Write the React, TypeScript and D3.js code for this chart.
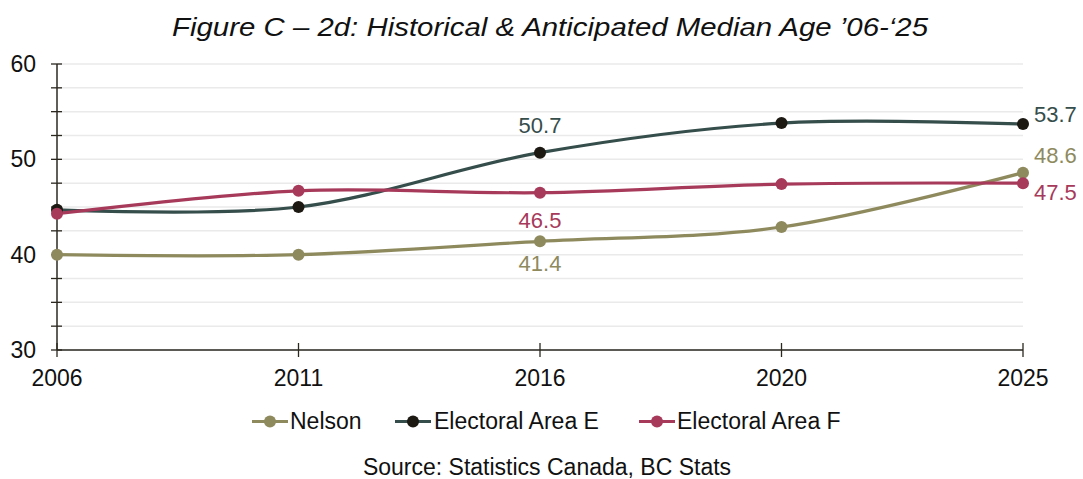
import React from "react";
import * as d3 from "d3";

const years = ["2006", "2011", "2016", "2020", "2025"];
const nelson = [40.0, 40.0, 41.4, 42.9, 48.6];
const areaE = [44.7, 45.0, 50.7, 53.8, 53.7];
const areaF = [44.3, 46.7, 46.5, 47.4, 47.5];
const yTicks = [30, 40, 50, 60];
const gridTicks = [30, 32.5, 35, 37.5, 40, 42.5, 45, 47.5, 50, 52.5, 55, 57.5, 60];

const series = [
  { name: "Nelson", values: nelson, line: "#8E8A5E", marker: "#8E8A5E", label: "#8E8A5E" },
  { name: "Electoral Area E", values: areaE, line: "#354D4B", marker: "#1C1812", label: "#354D4B" },
  { name: "Electoral Area F", values: areaF, line: "#A73A5B", marker: "#A73A5B", label: "#A73A5B" },
];

const W = 1083;
const H = 479;
const left = 57;
const right = 1023;
const top = 64;
const bottom = 350;
const font = "'Liberation Sans', Arial, sans-serif";

export default function App() {
  const x = d3.scalePoint<string>().domain(years).range([left, right]);
  const y = d3.scaleLinear().domain([30, 60]).range([bottom, top]);
  const line = d3
    .line<number>()
    .x((_, i) => x(years[i]) as number)
    .y((d) => y(d))
    .curve(d3.curveCatmullRom.alpha(0.5));

  const labels = [
    { s: 1, i: 2, dx: 0, dy: -20, anchor: "middle" },
    { s: 2, i: 2, dx: 0, dy: 35, anchor: "middle" },
    { s: 0, i: 2, dx: 0, dy: 30, anchor: "middle" },
    { s: 1, i: 4, dx: 11, dy: -2, anchor: "start" },
    { s: 0, i: 4, dx: 11, dy: -10, anchor: "start" },
    { s: 2, i: 4, dx: 11, dy: 17, anchor: "start" },
  ];

  const legendItems = [
    { s: 0, x: 252, tx: 290 },
    { s: 1, x: 395, tx: 434 },
    { s: 2, x: 639, tx: 677 },
  ];

  return (
    <svg width={W} height={H} style={{ position: "absolute", left: 0, top: 0, background: "#fff" }}>
      <rect width={W} height={H} fill="#fff" />
      <text
        x={172}
        y={36}
        textLength={756}
        lengthAdjust="spacingAndGlyphs"
        fontFamily={font}
        fontStyle="italic"
        fontSize={25}
        fill="#111"
      >
        Figure C – 2d: Historical &amp; Anticipated Median Age ’06-‘25
      </text>
      {gridTicks.map((t) => (
        <line key={"g" + t} x1={left} x2={right} y1={y(t)} y2={y(t)} stroke="#EAEAEA" strokeWidth={1.5} />
      ))}
      {gridTicks.map((t) => (
        <line key={"t" + t} x1={left - 6} x2={left + 5} y1={y(t)} y2={y(t)} stroke="#2B2820" strokeWidth={1.3} />
      ))}
      <line x1={left} x2={left} y1={top} y2={bottom} stroke="#2B2820" strokeWidth={1.5} />
      <line x1={left} x2={right} y1={bottom} y2={bottom} stroke="#2B2820" strokeWidth={1.5} />
      {years.map((yr) => (
        <line key={"xt" + yr} x1={x(yr)} x2={x(yr)} y1={bottom - 7} y2={bottom + 7} stroke="#2B2820" strokeWidth={1.3} />
      ))}
      {yTicks.map((t) => (
        <text key={"yl" + t} x={36} y={y(t) + 8} textAnchor="end" fontFamily={font} fontSize={23} fill="#111">
          {t}
        </text>
      ))}
      {years.map((yr) => (
        <text key={"xl" + yr} x={x(yr)} y={386} textAnchor="middle" fontFamily={font} fontSize={23} fill="#111">
          {yr}
        </text>
      ))}
      {series.map((s) => (
        <g key={s.name}>
          <path d={line(s.values) || ""} fill="none" stroke={s.line} strokeWidth={3.2} />
        </g>
      ))}
      {series.map((s) => (
        <g key={s.name + "m"}>
          {s.values.map((v, i) => (
            <circle key={i} cx={x(years[i])} cy={y(v)} r={6} fill={s.marker} />
          ))}
        </g>
      ))}
      {labels.map((l, k) => {
        const s = series[l.s];
        return (
          <text
            key={"dl" + k}
            x={(x(years[l.i]) as number) + l.dx}
            y={y(s.values[l.i]) + l.dy}
            textAnchor={l.anchor}
            fontFamily={font}
            fontSize={22}
            fill={s.label}
          >
            {s.values[l.i].toFixed(1)}
          </text>
        );
      })}
      {legendItems.map((it) => {
        const s = series[it.s];
        return (
          <g key={"lg" + it.s}>
            <line x1={it.x} x2={it.x + 36} y1={421.5} y2={421.5} stroke={s.line} strokeWidth={3.2} />
            <circle cx={it.x + 18} cy={421.5} r={6} fill={s.marker} />
            <text x={it.tx} y={429} fontFamily={font} fontSize={23} fill="#111">
              {s.name}
            </text>
          </g>
        );
      })}
      <text x={547} y={475} textAnchor="middle" fontFamily={font} fontSize={23} fill="#111">
        Source: Statistics Canada, BC Stats
      </text>
    </svg>
  );
}
